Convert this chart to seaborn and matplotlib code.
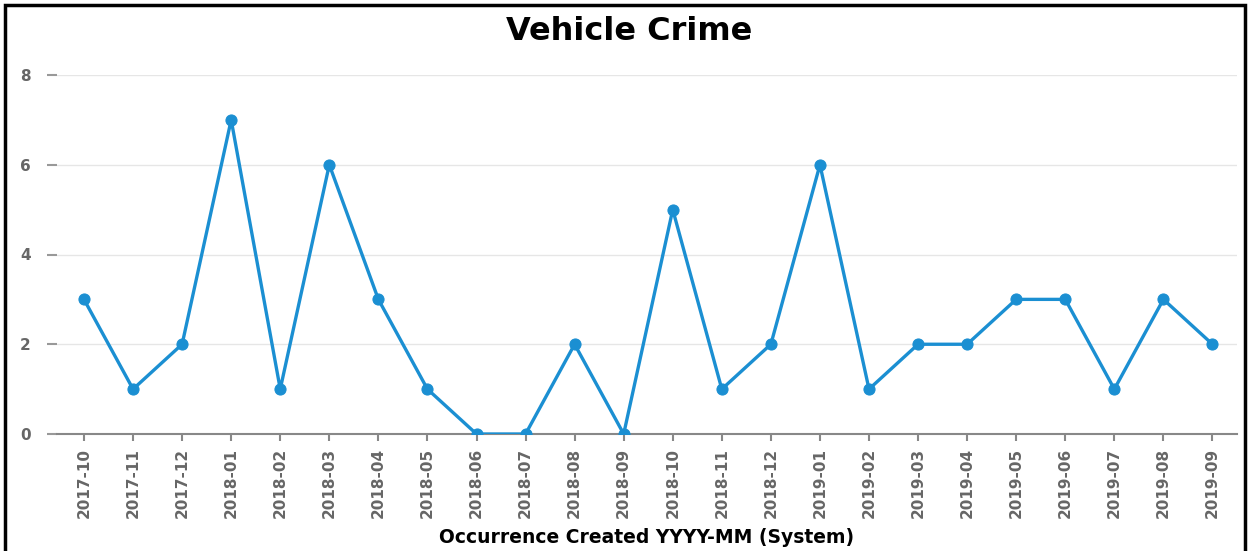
import pandas as pd
import seaborn as sns
import matplotlib.pyplot as plt
from matplotlib.patches import Rectangle

# data
months = ["2017-10", "2017-11", "2017-12", "2018-01", "2018-02", "2018-03",
          "2018-04", "2018-05", "2018-06", "2018-07", "2018-08", "2018-09",
          "2018-10", "2018-11", "2018-12", "2019-01", "2019-02", "2019-03",
          "2019-04", "2019-05", "2019-06", "2019-07", "2019-08", "2019-09"]
counts = [3, 1, 2, 7, 1, 6, 3, 1, 0, 0, 2, 0, 5, 1, 2, 6, 1, 2, 2, 3, 3, 1, 3, 2]
y_ticks = [0, 2, 4, 6, 8]

df = pd.DataFrame({"month": months, "count": counts})
df["pos"] = range(len(df))

sns.set_style("white")
plt.rcParams["font.family"] = ["DejaVu Sans"]

fig = plt.figure(figsize=(12.59, 5.51), dpi=100)
ax = fig.add_axes([57 / 1259, 1 - 434 / 551, (1237 - 57) / 1259, (434 - 75) / 551])

line_color = "#1b8fd2"
sns.lineplot(data=df, x="pos", y="count", ax=ax, color=line_color, linewidth=2.4,
             marker="o", markersize=8, markeredgecolor=line_color, zorder=3)

ax.set_xlim(-0.55, len(months) - 0.5)
ax.set_ylim(0, 8)
ax.set_xticks(df["pos"])
ax.set_xticklabels(months, rotation=90, color="#666666", fontweight="bold", fontsize=11)
ax.set_yticks(y_ticks)
ax.set_yticklabels([str(v) for v in y_ticks], color="#666666", fontweight="bold", fontsize=11)

ax.yaxis.grid(True, color="#e6e6e6", linewidth=1)
ax.set_axisbelow(True)
for side in ["left", "right", "top"]:
    ax.spines[side].set_visible(False)
ax.spines["bottom"].set_color("#888888")
ax.spines["bottom"].set_linewidth(1.5)
ax.spines["bottom"].set_zorder(2)

ax.tick_params(axis="y", length=7, width=1.5, color="#999999", pad=12, left=True)
ax.tick_params(axis="x", length=5, width=1.5, color="#888888", pad=5, bottom=True)

ax.set_xlabel("Occurrence Created YYYY-MM (System)", fontweight="bold", fontsize=13.5,
              color="black", labelpad=7)
ax.set_ylabel("")
fig.suptitle("Vehicle Crime", fontweight="bold", fontsize=23, color="black",
             y=1 - 31 / 551, va="center")

# black frame around the chart
fig.patches.append(Rectangle((5 / 1259, -0.05), 1240 / 1259, 1.05 - 5 / 551,
                             transform=fig.transFigure, fill=False,
                             edgecolor="black", linewidth=2.5, zorder=10))

plt.savefig("out.png", dpi=100)
plt.close()
